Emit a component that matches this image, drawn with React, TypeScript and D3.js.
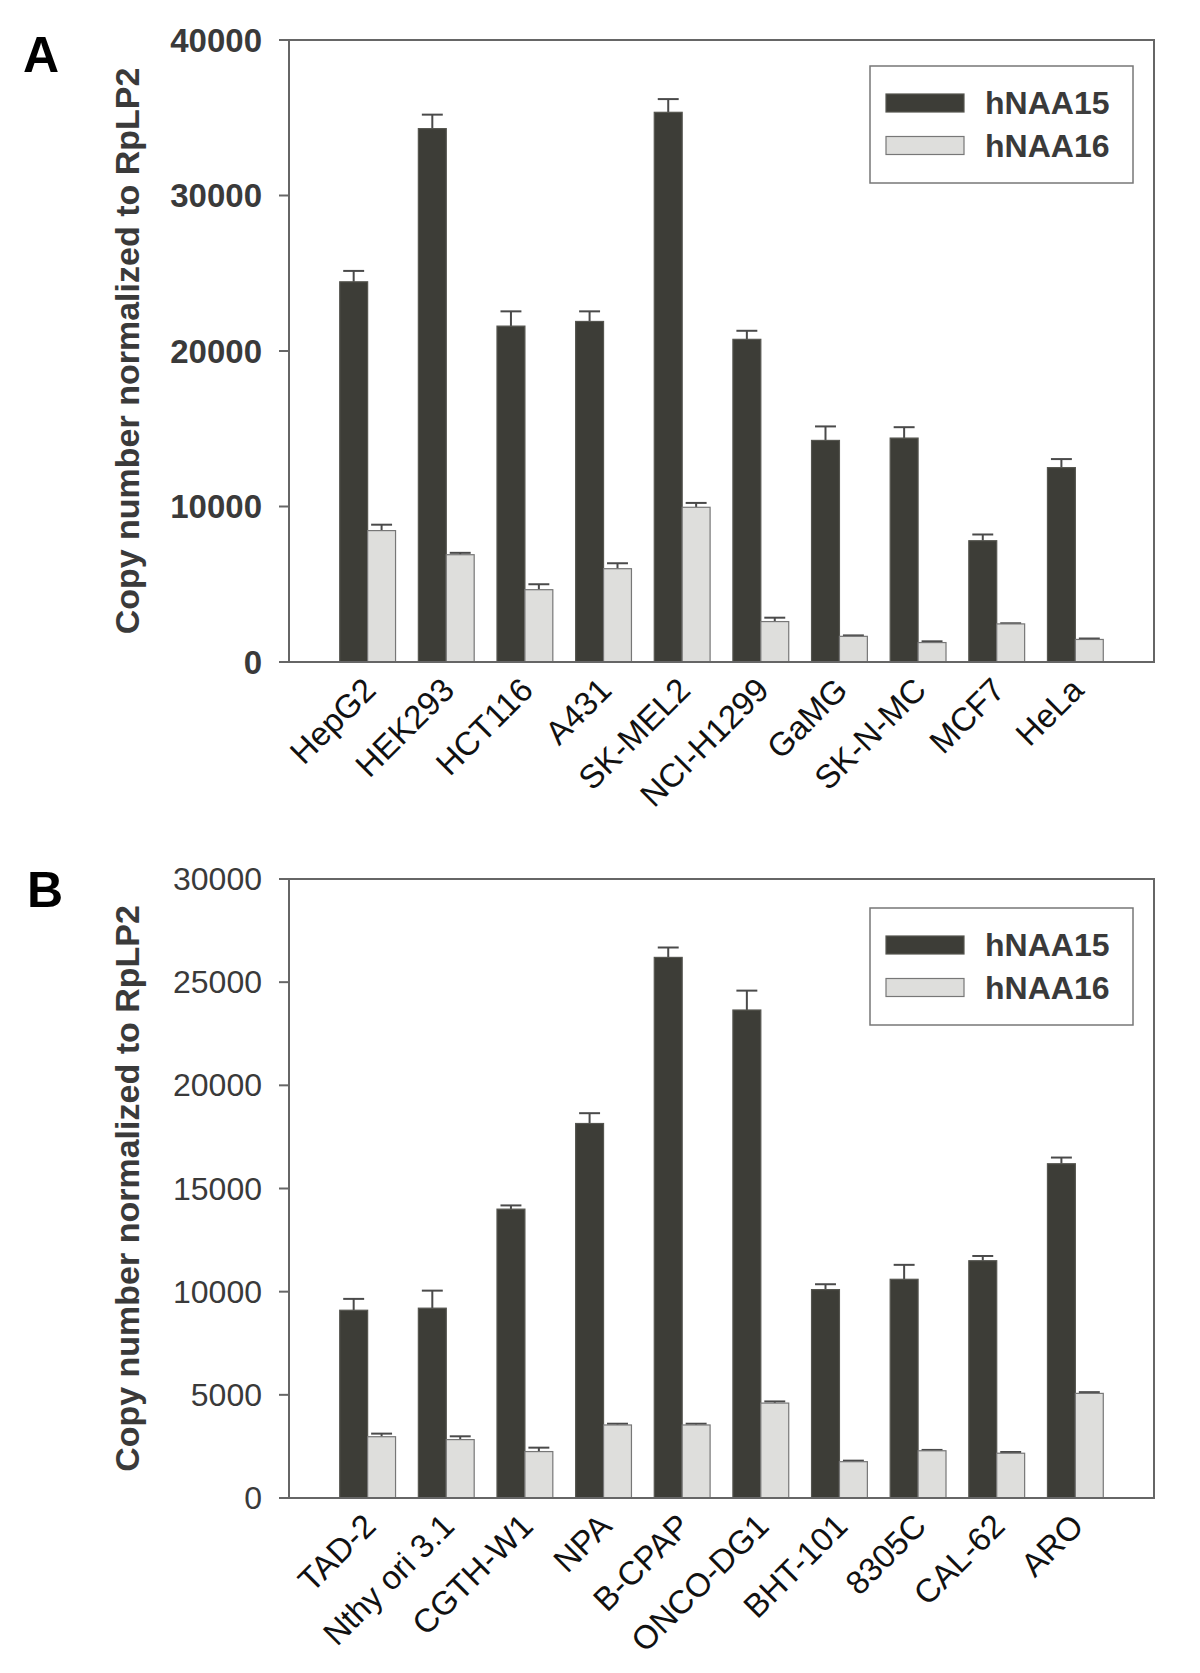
import React from "react";
import * as d3 from "d3";

// panel A
const CELLS_A = ["HepG2", "HEK293", "HCT116", "A431", "SK-MEL2", "NCI-H1299", "GaMG", "SK-N-MC", "MCF7", "HeLa"];
const NAA15_A = [24450, 34300, 21600, 21900, 35350, 20750, 14250, 14400, 7800, 12500];
const NAA15_A_ERR = [700, 900, 950, 650, 850, 550, 900, 700, 400, 550];
const NAA16_A = [8450, 6900, 4650, 6000, 9950, 2600, 1650, 1250, 2450, 1450];
const NAA16_A_ERR = [380, 120, 350, 350, 280, 250, 60, 80, 40, 60];
const TICKS_A = [0, 10000, 20000, 30000, 40000];

// panel B
const CELLS_B = ["TAD-2", "Nthy ori 3.1", "CGTH-W1", "NPA", "B-CPAP", "ONCO-DG1", "BHT-101", "8305C", "CAL-62", "ARO"];
const NAA15_B = [9100, 9200, 14000, 18150, 26200, 23650, 10100, 10600, 11500, 16200];
const NAA15_B_ERR = [550, 850, 180, 500, 480, 940, 260, 700, 230, 300];
const NAA16_B = [2970, 2830, 2250, 3540, 3540, 4600, 1760, 2290, 2170, 5070];
const NAA16_B_ERR = [150, 160, 190, 60, 60, 80, 50, 40, 60, 60];
const TICKS_B = [0, 5000, 10000, 15000, 20000, 25000, 30000];

const SERIES = ["hNAA15", "hNAA16"];
const Y_TITLE = "Copy number normalized to RpLP2";

const FONT = "'Liberation Sans', Arial, Helvetica, sans-serif";
const DARK = "#3d3d37";
const LIGHT = "#dededc";
const AXIS = "#666";
const TEXT = "#3a3a3a";

const LEFT = 289;
const RIGHT = 1154;

type PanelProps = {
  letter: string;
  cells: string[];
  v15: number[];
  e15: number[];
  v16: number[];
  e16: number[];
  ticks: number[];
  top: number;
  bottom: number;
  boldTicks: boolean;
  legendTop: number;
};

const Panel = ({ letter, cells, v15, e15, v16, e16, ticks, top, bottom, boldTicks, legendTop }: PanelProps) => {
  const x0 = d3
    .scaleBand()
    .domain(cells)
    .range([LEFT, RIGHT])
    .paddingInner(0.29)
    .paddingOuter(0.645);
  const x1 = d3.scaleBand().domain(SERIES).range([0, x0.bandwidth()]);
  const y = d3
    .scaleLinear()
    .domain([0, d3.max(ticks) as number])
    .range([bottom, top]);

  const color = d3.scaleOrdinal<string, string>().domain(SERIES).range([DARK, LIGHT]);
  const rows = cells.map((c, i) => [
    { cell: c, s: SERIES[0], v: v15[i], e: e15[i] },
    { cell: c, s: SERIES[1], v: v16[i], e: e16[i] },
  ]).flat();

  const capW = x1.bandwidth() * 0.75;
  const midY = (top + bottom) / 2;
  const lgLeft = 870;

  return (
    <g>
      <text x={letter === "A" ? 23 : 27} y={top + (letter === "A" ? 32 : 28)} fontSize={50} fontWeight="bold" fill="#000">
        {letter}
      </text>

      {/* y title */}
      <text
        transform={`translate(127,${midY}) rotate(-90)`}
        textAnchor="middle"
        dominantBaseline="central"
        fontSize={34}
        fontWeight="bold"
        fill={TEXT}
      >
        {Y_TITLE}
      </text>

      {/* ticks */}
      {ticks.map((t) => (
        <g key={t}>
          <line x1={LEFT - 10} x2={LEFT} y1={y(t)} y2={y(t)} stroke={AXIS} strokeWidth={2} />
          <text
            x={262}
            y={y(t)}
            textAnchor="end"
            dominantBaseline="central"
            fontSize={boldTicks ? 33 : 32}
            fontWeight={boldTicks ? "bold" : "normal"}
            fill={TEXT}
          >
            {t}
          </text>
        </g>
      ))}

      {/* bars */}
      {rows.map((d) => {
        const bx = (x0(d.cell) as number) + (x1(d.s) as number);
        const cx = bx + x1.bandwidth() / 2;
        return (
          <g key={d.cell + d.s}>
            <line x1={cx} x2={cx} y1={y(d.v)} y2={y(d.v + d.e)} stroke="#4a4a4a" strokeWidth={2} />
            <line x1={cx - capW / 2} x2={cx + capW / 2} y1={y(d.v + d.e)} y2={y(d.v + d.e)} stroke="#4a4a4a" strokeWidth={2} />
            <rect
              x={bx}
              y={y(d.v)}
              width={x1.bandwidth()}
              height={y(0) - y(d.v)}
              fill={color(d.s)}
              stroke={d.s === SERIES[0] ? "#55554f" : "#777"}
              strokeWidth={1.2}
            />
          </g>
        );
      })}

      {/* frame */}
      <rect x={LEFT} y={top} width={RIGHT - LEFT} height={bottom - top} fill="none" stroke={AXIS} strokeWidth={2} />

      {/* x labels */}
      {cells.map((c) => (
        <text
          key={c}
          transform={`translate(${(x0(c) as number) + x0.bandwidth() / 2 + 10},${bottom + 30}) rotate(-45)`}
          textAnchor="end"
          fontSize={33}
          fill="#111"
        >
          {c}
        </text>
      ))}

      {/* legend */}
      <rect x={lgLeft} y={legendTop} width={263} height={117} fill="#fff" stroke="#777" strokeWidth={1.5} />
      {SERIES.map((s, i) => (
        <g key={s}>
          <rect
            x={lgLeft + 16}
            y={legendTop + 28 + i * 42.5}
            width={78}
            height={18}
            fill={color(s)}
            stroke={i === 0 ? "#55554f" : "#777"}
            strokeWidth={1.2}
          />
          <text x={lgLeft + 115} y={legendTop + 48 + i * 42.5} fontSize={32} fontWeight="bold" fill={TEXT}>
            {s}
          </text>
        </g>
      ))}
    </g>
  );
};

const App = () => {
  return (
    <div style={{ position: "absolute", left: 0, top: 0 }}>
      <svg width={1200} height={1673} style={{ display: "block", fontFamily: FONT, background: "#fff" }}>
        <Panel
          letter="A"
          cells={CELLS_A}
          v15={NAA15_A}
          e15={NAA15_A_ERR}
          v16={NAA16_A}
          e16={NAA16_A_ERR}
          ticks={TICKS_A}
          top={40}
          bottom={662}
          boldTicks={true}
          legendTop={66}
        />
        <Panel
          letter="B"
          cells={CELLS_B}
          v15={NAA15_B}
          e15={NAA15_B_ERR}
          v16={NAA16_B}
          e16={NAA16_B_ERR}
          ticks={TICKS_B}
          top={879}
          bottom={1498}
          boldTicks={false}
          legendTop={908}
        />
      </svg>
    </div>
  );
};

export default App;
